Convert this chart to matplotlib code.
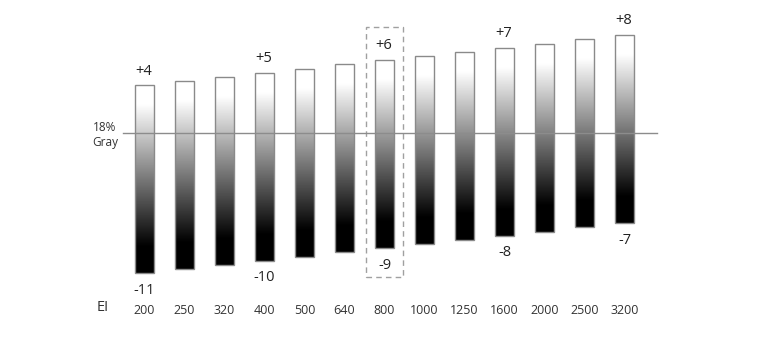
import numpy as np
import matplotlib
matplotlib.use("Agg")
import matplotlib.pyplot as plt
from matplotlib.patches import Rectangle
from matplotlib.transforms import blended_transform_factory

plt.rcParams['font.family'] = ['Open Sans', 'DejaVu Sans']

ei_labels = ["200", "250", "320", "400", "500", "640", "800",
             "1000", "1250", "1600", "2000", "2500", "3200"]
top_stops = [4.0, 4.33, 4.67, 5.0, 5.33, 5.67, 6.0, 6.33, 6.67, 7.0, 7.33, 7.67, 8.0]
bottom_stops = [-11.0, -10.67, -10.33, -10.0, -9.67, -9.33, -9.0,
                -8.67, -8.33, -8.0, -7.67, -7.33, -7.0]
labeled_idx = [0, 3, 6, 9, 12]
highlight_idx = 6
gray_level = 0.2

fig = plt.figure(figsize=(7.7, 3.46), dpi=100)
ax = fig.add_axes([0, 0, 1, 1])
ax.set_xlim(-3.6125, 15.6375)
ax.set_ylim(-16.81, 10.82)
ax.axis('off')

# gradient profile along bar (top -> bottom)
f = np.linspace(0, 1, 256)
vals = np.clip(1 - (f - 0.1) / 0.76, 0, 1)
grad = vals[:, None]

bw = 0.47
for i, (t, b) in enumerate(zip(top_stops, bottom_stops)):
    ax.imshow(grad, cmap='gray', vmin=0, vmax=1, aspect='auto',
              extent=(i - bw / 2, i + bw / 2, b, t), interpolation='bilinear',
              zorder=2)
    ax.add_patch(Rectangle((i - bw / 2, b), bw, t - b, fill=False,
                           edgecolor='#8a8a8a', lw=1.0, zorder=3))

# 18% gray line
ax.plot([-0.54, 12.81], [gray_level, gray_level], color='#8c8c8c', lw=1.0, zorder=4)
ax.text(-0.99, gray_level - 0.2, "18%\nGray", ha='center', va='center',
        fontsize=8.5, color='#333333', linespacing=1.2)

# labels
for i in labeled_idx:
    t, b = top_stops[i], bottom_stops[i]
    ax.text(i - 0.03, t + 1.15, f"+{t:.0f}", ha='center', va='center',
            fontsize=10.5, color='#222222')
    ax.text(i, b - 1.35, f"{b:.0f}", ha='center', va='center',
            fontsize=10.5, color='#222222')

# highlight box
h = highlight_idx
ax.add_patch(Rectangle((h - 0.47, bottom_stops[h] - 2.28), 0.94,
                       (top_stops[h] + 2.69) - (bottom_stops[h] - 2.28),
                       fill=False, edgecolor='#a0a0a0', lw=1.0,
                       linestyle=(0, (4, 3)), zorder=1))

# EI axis labels
trans = blended_transform_factory(ax.transData, ax.transAxes)
for i, lab in enumerate(ei_labels):
    ax.text(i, 0.104, lab, transform=trans, ha='center', va='center',
            fontsize=9, color='#333333')
ax.text(-1.04, 0.11, "EI", transform=trans, ha='center', va='center',
        fontsize=10.5, color='#333333')

fig.savefig("out.png", dpi=100)
